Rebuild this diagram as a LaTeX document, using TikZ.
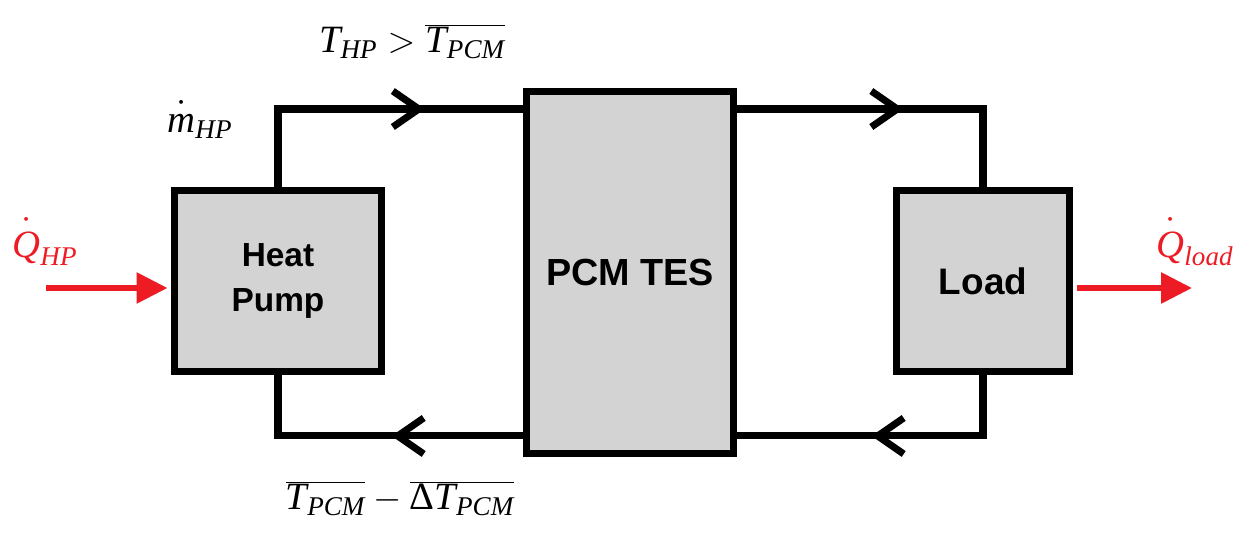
\documentclass[tikz,border=0pt]{standalone}
\usepackage{fontspec}
\setmainfont{Liberation Serif}
\setsansfont{Liberation Sans}
\usetikzlibrary{arrows.meta,decorations.markings}
\definecolor{heatred}{RGB}{237,28,36}
\definecolor{boxgray}{RGB}{211,211,211}
\newcommand{\ratedot}[1]{\mathord{\mathop{\mathit{#1}}\limits^{\textstyle\cdot}}}
\tikzset{
  unit box/.style={
    draw,
    fill=boxgray,
    line width=4pt,
    inner sep=0pt,
    align=center,
    font=\sffamily\bfseries
  },
  pipe line/.style={
    line width=4pt,
    line join=miter,
    postaction={decorate},
    decoration={markings,
      mark=at position #1 with {\arrow{Straight Barb[length=0.52cm,width=0.72cm]}}}
  },
  heat flow/.style={
    heatred,
    line width=3.4pt,
    -{Triangle[length=0.62cm,width=0.6cm]}
  },
  flow label/.style={
    anchor=base,
    font=\fontsize{22}{26}\selectfont
  }
}

\begin{document}
\begin{tikzpicture}[x=0.02cm,y=-0.02cm]
  \useasboundingbox (0,0) rectangle (1252,543);
  \node[unit box,minimum width=4.14cm,minimum height=3.62cm,font=\sffamily\bfseries\fontsize{19}{26}\selectfont] (hp) at (278,281) {Heat\\Pump};
  \node[unit box,minimum width=4.14cm,minimum height=7.24cm,font=\sffamily\bfseries\fontsize{21.5}{26}\selectfont] (pcm) at (630,272.5) {PCM TES};
  \node[unit box,minimum width=3.46cm,minimum height=3.62cm,font=\sffamily\bfseries\fontsize{21}{26}\selectfont] (load) at (983,281) {Load};
  \draw[pipe line=4.5cm] (hp.north) |- ([yshift=-0.42cm]pcm.north west);
  \draw[pipe line=3.33cm] ([yshift=-0.42cm]pcm.north east) -| (load.north);
  \draw[pipe line=3.45cm] (load.south) |- ([yshift=0.42cm]pcm.south east);
  \draw[pipe line=2.63cm] ([yshift=0.42cm]pcm.south west) -| (hp.south);
  \coordinate (qin) at (46,288);
  \coordinate (qout) at (1192,288);
  \draw[heat flow,shorten >=0.07cm] (qin) -- (qin -| hp.west);
  \draw[heat flow,shorten <=0.07cm] (qout -| load.east) -- (qout);
  \node[flow label,text=heatred] (qhp) at (45,257) {$\ratedot{Q}_{\mathit{HP}}$};
  \node[flow label,text=heatred] (qload) at (1195,257) {$\ratedot{Q}_{\mathit{load}}$};
  \node[flow label] (supply) at (412,53) {$\mathit{T}_{\mathit{HP}} > \overline{\mathit{T}_{\mathit{PCM}}}$};
  \node[flow label] (mdot) at (200,133) {$\ratedot{m}_{\mathit{HP}}$};
  \node[flow label] (return) at (400,510) {$\overline{\mathit{T}_{\mathit{PCM}}} - \overline{\mbox{Δ}\mathit{T}_{\mathit{PCM}}}$};
\end{tikzpicture}
\end{document}
